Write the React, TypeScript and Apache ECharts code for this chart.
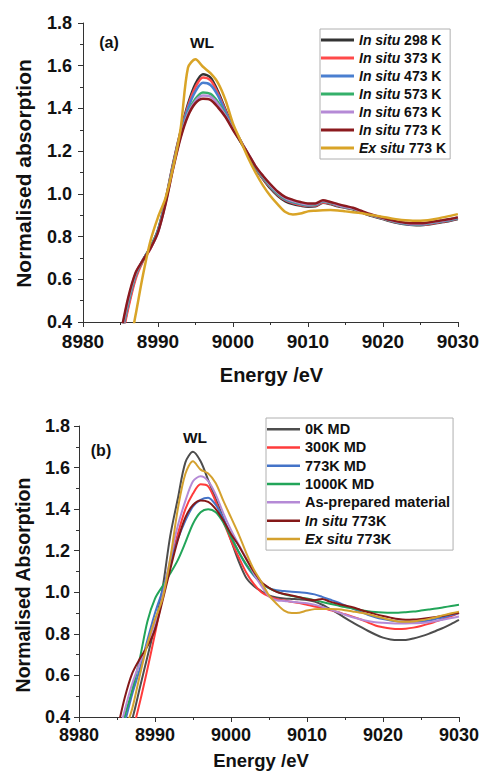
import React, { useEffect, useRef } from "react";
import * as echarts from "echarts";

// ---------- Panel (a) data ----------
const energyA = [
  8985, 8986, 8987, 8988, 8989, 8990, 8991, 8992, 8993, 8994, 8995, 8996, 8997, 8998, 8999,
  9000, 9001, 9002, 9003, 9004, 9005, 9006, 9007, 9008, 9009, 9010, 9011, 9012, 9013, 9014,
  9015, 9016, 9017, 9018, 9019, 9020, 9021, 9022, 9023, 9024, 9025, 9026, 9027, 9028, 9029, 9030,
];
const inSitu298 = [
  0.30, 0.47, 0.61, 0.69, 0.75, 0.83, 0.97, 1.14, 1.29, 1.42, 1.515, 1.56, 1.545, 1.48, 1.395,
  1.315, 1.25, 1.185, 1.12, 1.07, 1.025, 0.99, 0.965, 0.952, 0.945, 0.94, 0.942, 0.958, 0.952, 0.942,
  0.935, 0.928, 0.915, 0.902, 0.892, 0.882, 0.872, 0.864, 0.858, 0.854, 0.853, 0.856, 0.862, 0.868, 0.874, 0.882,
];
const inSitu373 = [
  0.29, 0.46, 0.60, 0.685, 0.745, 0.825, 0.965, 1.135, 1.285, 1.41, 1.50, 1.545, 1.532, 1.47, 1.39,
  1.31, 1.248, 1.185, 1.122, 1.072, 1.03, 0.995, 0.97, 0.957, 0.948, 0.943, 0.945, 0.96, 0.955, 0.944,
  0.936, 0.93, 0.917, 0.904, 0.894, 0.884, 0.874, 0.866, 0.86, 0.856, 0.855, 0.858, 0.864, 0.87, 0.876, 0.884,
];
const inSitu473 = [
  0.31, 0.48, 0.615, 0.69, 0.75, 0.83, 0.965, 1.13, 1.28, 1.40, 1.48, 1.52, 1.51, 1.46, 1.383,
  1.31, 1.248, 1.186, 1.124, 1.075, 1.033, 0.998, 0.973, 0.96, 0.952, 0.946, 0.948, 0.963, 0.957, 0.946,
  0.937, 0.931, 0.918, 0.905, 0.895, 0.885, 0.875, 0.866, 0.86, 0.856, 0.856, 0.86, 0.866, 0.872, 0.878, 0.886,
];
const inSitu573 = [
  0.32, 0.49, 0.62, 0.69, 0.75, 0.825, 0.96, 1.125, 1.27, 1.38, 1.445, 1.475, 1.468, 1.43, 1.37,
  1.305, 1.245, 1.185, 1.125, 1.078, 1.036, 1.0, 0.976, 0.964, 0.955, 0.948, 0.95, 0.965, 0.958, 0.947,
  0.938, 0.931, 0.918, 0.905, 0.895, 0.885, 0.875, 0.867, 0.862, 0.858, 0.858, 0.862, 0.868, 0.874, 0.88, 0.888,
];
const inSitu673 = [
  0.33, 0.50, 0.625, 0.69, 0.745, 0.82, 0.955, 1.12, 1.265, 1.375, 1.435, 1.46, 1.455, 1.42, 1.366,
  1.305, 1.248, 1.19, 1.13, 1.082, 1.04, 1.005, 0.98, 0.966, 0.957, 0.95, 0.952, 0.967, 0.96, 0.948,
  0.939, 0.932, 0.919, 0.906, 0.896, 0.886, 0.876, 0.868, 0.863, 0.859, 0.859, 0.863, 0.869, 0.875, 0.881, 0.889,
];
const inSitu773 = [
  0.34, 0.51, 0.63, 0.69, 0.745, 0.82, 0.95, 1.115, 1.26, 1.365, 1.425, 1.445, 1.44, 1.405, 1.36,
  1.30, 1.245, 1.19, 1.13, 1.085, 1.045, 1.01, 0.985, 0.972, 0.962, 0.955, 0.955, 0.97, 0.962, 0.952,
  0.943, 0.935, 0.922, 0.908, 0.898, 0.888, 0.878, 0.87, 0.865, 0.862, 0.862, 0.866, 0.872, 0.877, 0.882, 0.89,
];
const exSitu773 = [
  0.15, 0.25, 0.43, 0.62, 0.78, 0.89, 0.98, 1.12, 1.30, 1.59, 1.63, 1.595, 1.565, 1.52, 1.44,
  1.33, 1.25, 1.17, 1.10, 1.04, 0.99, 0.95, 0.915, 0.903, 0.908, 0.918, 0.921, 0.923, 0.924, 0.922,
  0.918, 0.914, 0.91, 0.904, 0.898, 0.892, 0.886, 0.88, 0.876, 0.874, 0.874, 0.876, 0.882, 0.89, 0.897, 0.905,
];

// ---------- Panel (b) data ----------
const energyB = energyA;
const md0K = [
  0.20, 0.30, 0.39, 0.54, 0.69, 0.84, 1.02, 1.27, 1.45, 1.625, 1.676, 1.63, 1.54, 1.45, 1.355,
  1.25, 1.15, 1.07, 1.03, 1.005, 0.985, 0.975, 0.97, 0.968, 0.966, 0.963, 0.955, 0.94, 0.92, 0.90,
  0.877, 0.855, 0.835, 0.815, 0.797, 0.782, 0.773, 0.77, 0.771, 0.778, 0.788, 0.80, 0.815, 0.83, 0.848, 0.867,
];
const md300K = [
  0.15, 0.25, 0.33, 0.47, 0.63, 0.80, 0.98, 1.14, 1.28, 1.40, 1.475, 1.52, 1.51, 1.435, 1.34,
  1.25, 1.17, 1.095, 1.04, 1.0, 0.98, 0.968, 0.96, 0.954, 0.948, 0.94, 0.932, 0.925, 0.915, 0.905,
  0.894, 0.883, 0.87, 0.855, 0.84, 0.832, 0.826, 0.823, 0.825, 0.83, 0.838, 0.848, 0.86, 0.872, 0.886, 0.90,
];
const md773K = [
  0.25, 0.37, 0.51, 0.63, 0.77, 0.90, 1.01, 1.14, 1.255, 1.345, 1.413, 1.445, 1.455, 1.42, 1.355,
  1.27, 1.195, 1.13, 1.08, 1.045, 1.02, 1.01, 1.006, 1.003, 1.0, 0.997, 0.99, 0.978, 0.965, 0.952,
  0.937, 0.922, 0.907, 0.892, 0.88, 0.871, 0.864, 0.86, 0.858, 0.858, 0.859, 0.864, 0.872, 0.88, 0.89, 0.90,
];
const md1000K = [
  0.24, 0.40, 0.53, 0.68, 0.86, 0.97, 1.03, 1.09, 1.155, 1.24, 1.33, 1.385, 1.40, 1.385, 1.335,
  1.265, 1.195, 1.135, 1.085, 1.045, 1.02, 1.003, 0.99, 0.982, 0.976, 0.97, 0.962, 0.953, 0.945, 0.937,
  0.929, 0.922, 0.915, 0.909, 0.905, 0.903, 0.902, 0.902, 0.904, 0.907, 0.912, 0.917, 0.922, 0.928, 0.934, 0.94,
];
const asPrepared = [
  0.28, 0.43, 0.56, 0.66, 0.75, 0.85, 0.98, 1.16, 1.32, 1.44, 1.534, 1.558, 1.535, 1.47, 1.38,
  1.30, 1.23, 1.165, 1.09, 1.03, 0.98, 0.962, 0.958, 0.955, 0.951, 0.947, 0.94, 0.93, 0.918, 0.905,
  0.892, 0.88, 0.87, 0.862, 0.856, 0.853, 0.851, 0.85, 0.85, 0.851, 0.852, 0.856, 0.862, 0.869, 0.876, 0.883,
];
const inSitu773B = [
  0.33, 0.49, 0.61, 0.68, 0.74, 0.82, 0.96, 1.11, 1.25, 1.36, 1.42, 1.442, 1.435, 1.40, 1.345,
  1.28, 1.225, 1.16, 1.10, 1.05, 1.022, 1.002, 0.992, 0.985, 0.976, 0.966, 0.962, 0.968, 0.955, 0.945,
  0.936, 0.928, 0.916, 0.905, 0.895, 0.886, 0.878, 0.871, 0.868, 0.869, 0.872, 0.876, 0.881, 0.887, 0.895, 0.902,
];
const exSitu773B = [
  0.22, 0.33, 0.44, 0.60, 0.75, 0.87, 0.97, 1.16, 1.40, 1.57, 1.63, 1.59, 1.572, 1.525, 1.44,
  1.36, 1.28, 1.19, 1.11, 1.05, 0.985, 0.945, 0.912, 0.90, 0.902, 0.912, 0.919, 0.92, 0.92, 0.918,
  0.914, 0.908, 0.902, 0.895, 0.885, 0.876, 0.867, 0.86, 0.858, 0.86, 0.865, 0.872, 0.88, 0.89, 0.899, 0.907,
];

const xTicks = { min: 8980, max: 9030, interval: 10 };
const yTicks = { min: 0.4, max: 1.8, interval: 0.2 };

const seriesA = [
  { name: "In situ 298 K", data: inSitu298, color: "#333333" },
  { name: "In situ 373 K", data: inSitu373, color: "#ff4a4a" },
  { name: "In situ 473 K", data: inSitu473, color: "#4a7fd0" },
  { name: "In situ 573 K", data: inSitu573, color: "#35b06a" },
  { name: "In situ 673 K", data: inSitu673, color: "#b58ad6" },
  { name: "In situ 773 K", data: inSitu773, color: "#8b1a1e" },
  { name: "Ex situ 773 K", data: exSitu773, color: "#d9a427" },
];
const seriesB = [
  { name: "0K MD", data: md0K, color: "#4d4d4d" },
  { name: "300K MD", data: md300K, color: "#ff3b3b" },
  { name: "773K MD", data: md773K, color: "#4473c8" },
  { name: "1000K MD", data: md1000K, color: "#22a559" },
  { name: "As-prepared material", data: asPrepared, color: "#b58ad6" },
  { name: "In situ 773K", data: inSitu773B, color: "#841818" },
  { name: "Ex situ 773K", data: exSitu773B, color: "#d4a12e" },
];

const FONT = "'Liberation Sans', Arial, sans-serif";

function legendFormatter(name: string) {
  const m = name.match(/^(In situ|Ex situ)(.*)$/);
  if (m) return `{i|${m[1]}}${m[2]}`;
  return name;
}

export default function App() {
  const ref = useRef<HTMLDivElement>(null);
  useEffect(() => {
    document.body.style.margin = "0";
    if (!ref.current) return;
    const chart = echarts.init(ref.current, undefined, { renderer: "svg" });

    const axisLine = { show: true, onZero: false, lineStyle: { color: "#333", width: 1 } };
    const mkX = (gridIndex: number, fontSize: number, margin: number) => ({
      type: "value",
      gridIndex,
      ...xTicks,
      axisLine,
      axisTick: { show: true, length: 5, lineStyle: { color: "#333" } },
      minorTick: { show: true, splitNumber: 2, length: 3, lineStyle: { color: "#333" } },
      splitLine: { show: false },
      axisLabel: {
        fontSize,
        fontWeight: "bold",
        color: "#111",
        fontFamily: FONT,
        margin,
        formatter: (v: number) => String(Math.round(v)),
      },
    });
    const mkY = (gridIndex: number, fontSize: number, margin: number) => ({
      type: "value",
      gridIndex,
      ...yTicks,
      axisLine,
      axisTick: { show: true, length: 5, lineStyle: { color: "#333" } },
      minorTick: { show: true, splitNumber: 2, length: 3, lineStyle: { color: "#333" } },
      splitLine: { show: false },
      axisLabel: {
        fontSize,
        fontWeight: "bold",
        color: "#111",
        fontFamily: FONT,
        margin,
        formatter: (v: number) => v.toFixed(1),
      },
    });

    const mkSeries = (list: any[], energies: number[], idx: number, width: number) =>
      list.map((s) => ({
        type: "line",
        name: s.name,
        xAxisIndex: idx,
        yAxisIndex: idx,
        data: energies.map((e, i) => [e, s.data[i]]),
        showSymbol: false,
        symbol: "none",
        smooth: 0.3,
        clip: true,
        color: s.color,
        lineStyle: { color: s.color, width },
      }));

    const legendBase = (fontSize: number, lineHeight: number) => ({
      orient: "vertical",
      icon: "rect",
      itemWidth: 33,
      itemGap: 0,
      borderColor: "#b0b0b0",
      borderWidth: 1,
      formatter: legendFormatter,
      textStyle: {
        fontSize,
        lineHeight,
        fontWeight: "bold",
        color: "#111",
        fontFamily: FONT,
        rich: {
          i: {
            fontSize,
            lineHeight,
            fontWeight: "bold",
            fontStyle: "italic",
            color: "#111",
            fontFamily: FONT,
          },
        },
      },
    });

    const txt = (text: string, x: number, y: number, fontSize: number, extra: any = {}) => ({
      type: "text",
      x,
      y,
      ...extra,
      style: {
        text,
        fontSize,
        fontWeight: "bold",
        fontFamily: FONT,
        fill: "#111",
        align: "center",
        verticalAlign: "middle",
      },
    });

    chart.setOption({
      animation: false,
      backgroundColor: "#fff",
      grid: [
        { left: 83, top: 23, width: 376, height: 299 },
        { left: 79, top: 426, width: 381, height: 291 },
      ],
      xAxis: [mkX(0, 19, 10), mkX(1, 18, 9)],
      yAxis: [mkY(0, 18, 11), mkY(1, 18, 9)],
      legend: [
        {
          ...legendBase(14, 18),
          left: 320,
          top: 29,
          padding: [2, 4, 2, 1],
          itemHeight: 3,
          data: seriesA.map((s) => s.name),
        },
        {
          ...legendBase(14.5, 18.3),
          left: 266,
          top: 418,
          padding: [2, 3, 2, 1],
          itemHeight: 2.5,
          data: seriesB.map((s) => s.name),
        },
      ],
      graphic: [
        txt("(a)", 109, 42, 16),
        txt("WL", 202, 42, 15.5),
        txt("(b)", 101, 450, 16),
        txt("WL", 195, 437, 15.5),
        txt("Energy /eV", 271.5, 375, 20),
        txt("Energy /eV", 261, 760, 18.5),
        txt("Normalised absorption", 23, 173.5, 21, { rotation: Math.PI / 2 }),
        txt("Normalised Absorption", 23, 585, 19.5, { rotation: Math.PI / 2 }),
      ],
      series: [...mkSeries(seriesA, energyA, 0, 2.5), ...mkSeries(seriesB, energyB, 1, 2)],
    });
    return () => chart.dispose();
  }, []);
  return <div ref={ref} style={{ width: 482, height: 776 }} />;
}
